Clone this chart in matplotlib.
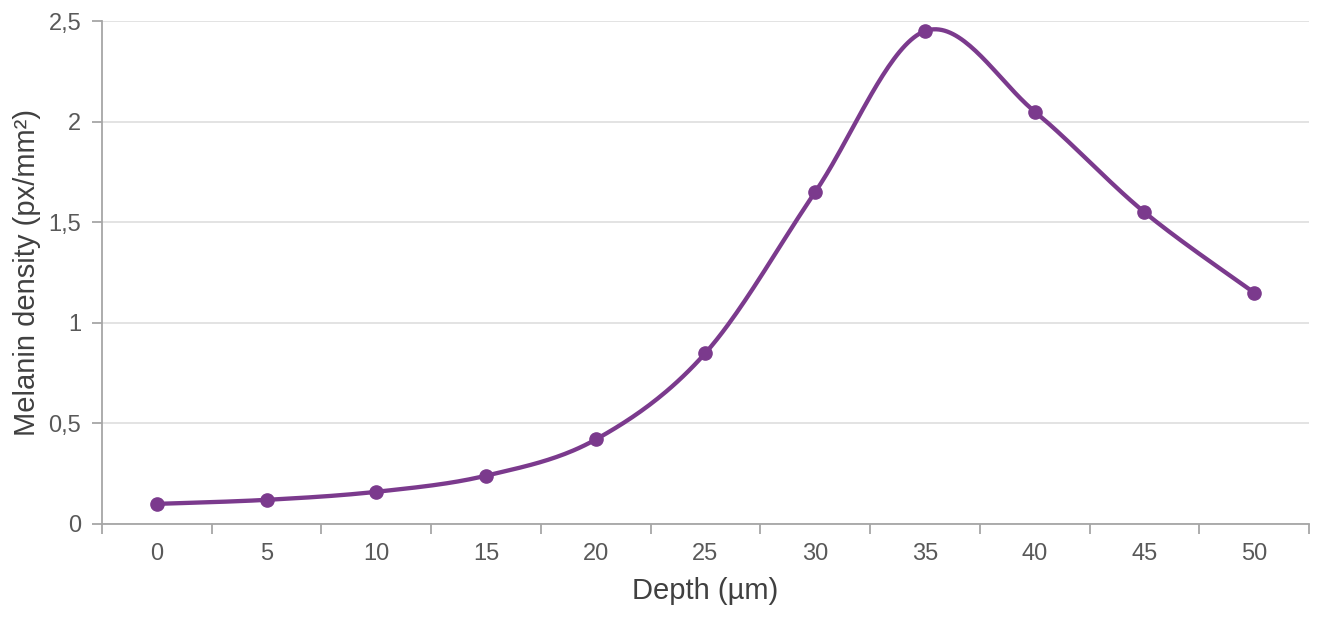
import matplotlib.pyplot as plt
import numpy as np
from matplotlib.ticker import FuncFormatter

depth = [0, 5, 10, 15, 20, 25, 30, 35, 40, 45, 50]
density = [0.10, 0.12, 0.16, 0.24, 0.42, 0.85, 1.65, 2.45, 2.05, 1.55, 1.15]

plt.rcParams['font.family'] = ['Liberation Sans', 'DejaVu Sans']
color = '#7B3A8D'


def smooth(x, y, n=40):
    # Excel-like smoothed line: cubic bezier with catmull-rom control points
    x = np.asarray(x, float)
    y = np.asarray(y, float)
    px = np.concatenate([[x[0]], x, [x[-1]]])
    py = np.concatenate([[y[0]], y, [y[-1]]])
    t = np.linspace(0, 1, n)
    xs, ys = [], []
    for i in range(len(x) - 1):
        p0 = np.array([px[i], py[i]])
        p1 = np.array([px[i + 1], py[i + 1]])
        p2 = np.array([px[i + 2], py[i + 2]])
        p3 = np.array([px[i + 3], py[i + 3]])
        c1 = p1 + (p2 - p0) / 6
        c2 = p2 - (p3 - p1) / 6
        b = ((1 - t) ** 3)[:, None] * p1 + (3 * (1 - t) ** 2 * t)[:, None] * c1 \
            + (3 * (1 - t) * t ** 2)[:, None] * c2 + (t ** 3)[:, None] * p2
        xs.append(b[:, 0])
        ys.append(b[:, 1])
    return np.concatenate(xs), np.concatenate(ys)


idx = np.arange(len(depth))
fig = plt.figure(figsize=(13.19, 6.19), dpi=100)
ax = fig.add_axes([0.0773, 0.1535, 0.9151, 0.8125])

sx, sy = smooth(idx, density)
ax.plot(sx, sy, color=color, lw=3.1, solid_capstyle='round', zorder=3)
ax.plot(idx, density, 'o', color=color, ms=9.5, zorder=4)

ax.set_xlim(-0.5, len(depth) - 0.5)
ax.set_ylim(0, 2.5)
ax.set_yticks(np.arange(0, 2.51, 0.5))
ax.yaxis.set_major_formatter(FuncFormatter(lambda v, p: ('%g' % v).replace('.', ',')))
ax.set_xticks(idx)
ax.set_xticklabels([str(d) for d in depth])
ax.set_xticks(np.arange(-0.5, len(depth), 1), minor=True)
ax.tick_params(axis='x', which='major', length=0, pad=14, labelsize=17, labelcolor='#595959')
ax.tick_params(axis='x', which='minor', length=7, width=1.3, color='#A6A6A6')
ax.tick_params(axis='y', length=7, width=1.3, color='#A6A6A6', labelsize=17,
               labelcolor='#595959', pad=8)

ax.grid(axis='y', color='#E0E0E0', lw=1.3)
ax.set_axisbelow(True)
for s in ['top', 'right']:
    ax.spines[s].set_visible(False)
for s in ['left', 'bottom']:
    ax.spines[s].set_color('#A6A6A6')
    ax.spines[s].set_linewidth(1.3)

ax.set_xlabel('Depth (µm)', fontsize=21, color='#404040', labelpad=8)
ax.set_ylabel('Melanin density (px/mm²)', fontsize=21, color='#404040', labelpad=5)

fig.savefig('out.png', dpi=100)
